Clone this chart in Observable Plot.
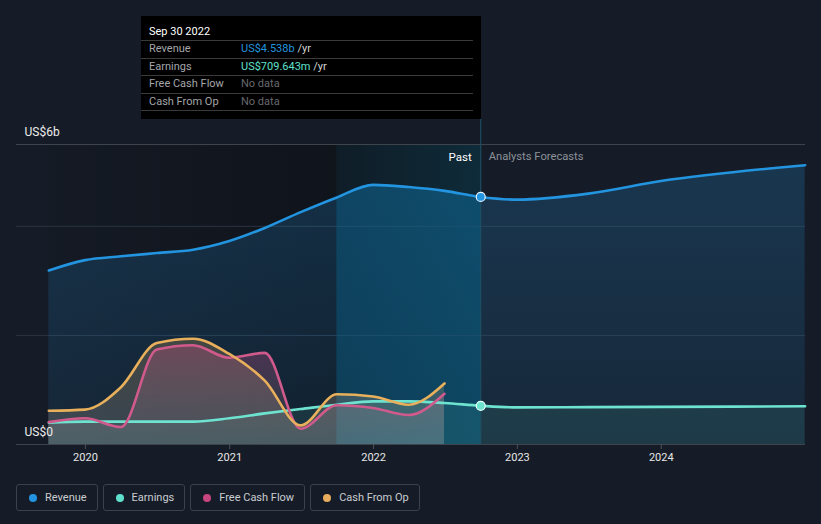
<!DOCTYPE html>
<html>
<head>
<meta charset="utf-8">
<script src="https://cdn.jsdelivr.net/npm/d3@7"></script>
<script src="https://cdn.jsdelivr.net/npm/@observablehq/plot@0.6"></script>
<style>
html,body{margin:0;padding:0;background:#161c27;width:821px;height:524px;overflow:hidden;font-family:Roboto,"Noto Sans",sans-serif;}
#chart{position:absolute;left:0;top:0;}
#tip{position:absolute;left:141px;top:16px;width:340px;height:103px;background:#000;font-size:11px;}
#tip .title{box-sizing:border-box;width:332px;height:25px;padding:7px 0 0 8px;line-height:18px;color:#fff;border-bottom:1px solid #3a3a3a;}
#tip .row{position:relative;box-sizing:border-box;width:332px;height:17.5px;line-height:15px;padding-left:8px;border-bottom:1px solid #3a3a3a;color:#a3a5a9;}
#tip .row .v{position:absolute;left:100px;top:0;}
#tip .unit{color:#d4d4d4;}
#tip .nd{color:#66686c;}
#legend{position:absolute;left:16px;top:484px;display:flex;gap:5px;}
#legend .item{box-sizing:border-box;height:27px;border:1px solid #3b424c;border-radius:3px;padding:0 10px 0 12px;display:flex;align-items:center;font-size:11px;color:#c9ccd1;}
#legend .dot{width:8px;height:8px;border-radius:50%;margin-right:8px;}
</style>
</head>
<body>
<div id="chart"></div>
<div id="tip"></div>
<div id="legend"></div>
<script>
// ---------- data ----------
const pastDates = ["2019-09-30","2019-12-31","2020-03-31","2020-06-30","2020-09-30","2020-12-31","2021-03-31","2021-06-30","2021-09-30","2021-12-31","2022-03-31","2022-06-30","2022-09-30"];
const revenuePast  = [3.19, 3.38, 3.45, 3.51, 3.57, 3.73, 3.97, 4.26, 4.53, 4.76, 4.72, 4.65, 4.538];
const earningsPast = [0.40, 0.42, 0.42, 0.42, 0.42, 0.48, 0.57, 0.65, 0.73, 0.79, 0.79, 0.76, 0.709643];
const cashDates = ["2019-09-30","2019-12-31","2020-03-31","2020-06-30","2020-09-30","2020-12-31","2021-03-31","2021-06-30","2021-09-30","2021-12-31","2022-03-31","2022-06-30"];
const fcfPast = [0.41, 0.48, 0.32, 1.74, 1.82, 1.59, 1.68, 0.29, 0.72, 0.67, 0.54, 0.93];
const cfoPast = [0.62, 0.64, 1.05, 1.86, 1.94, 1.66, 1.17, 0.35, 0.92, 0.88, 0.73, 1.12];
const forecastDates = ["2022-12-31","2023-06-30","2023-12-31","2024-12-31"];
const revenueForecast  = [4.49, 4.60, 4.83, 5.12];
const earningsForecast = [0.68, 0.685, 0.69, 0.70];
const hoverDateStr = "2022-09-30";
const bandStartStr = "2021-09-30";
const yearTicks = ["2020","2021","2022","2023","2024"];
const gridValues = [2, 4];
const yLabelValues = [0, 5.5];
const yLabels = ["US$0", "US$6b"];
const seriesNames = ["Revenue","Earnings","Free Cash Flow","Cash From Op"];
const seriesColors = ["#2394df","#5fe0cc","#c8457e","#e7ac5c"];
const lineColors = {revenue:"#2394df", earnings:"#6ee3cf", fcf:"#d05a8c", cfo:"#e9b05c"};

// ---------- build ----------
const parse = d3.utcParse("%Y-%m-%d");
const hoverDate = parse(hoverDateStr);
const bandStart = parse(bandStartStr);
const past = pastDates.map((d,i)=>({date:parse(d), revenue:revenuePast[i], earnings:earningsPast[i]}));
const fc = forecastDates.map((d,i)=>({date:parse(d), revenue:revenueForecast[i], earnings:earningsForecast[i]}));
const all = past.concat(fc);
const cash = cashDates.map((d,i)=>({date:parse(d), fcf:fcfPast[i], cfo:cfoPast[i]}));
const band = all.filter(d => d.date >= bandStart && d.date <= hoverDate);
const hover = past[past.length-1];
const yearDates = yearTicks.map(d3.utcParse("%Y"));

const chart = Plot.plot({
  width: 821, height: 470,
  marginLeft: 16, marginRight: 16, marginTop: 144, marginBottom: 26,
  style: {background:"transparent", color:"#e6e6e6", fontFamily:"Roboto, 'Noto Sans', sans-serif", fontSize:"11px", overflow:"visible"},
  x: {type:"utc", domain:[parse("2019-07-10"), parse("2025-01-01")], axis:null},
  y: {domain:[0, 5.5], axis:null},
  marks: [
    Plot.rect([{a:past[0].date, b:bandStart}], {x1:"a", x2:"b", fill:"url(#gPast)"}),
    Plot.rect([{a:bandStart, b:hoverDate}], {x1:"a", x2:"b", fill:"url(#gBand)"}),
    Plot.ruleY(gridValues, {stroke:"#2a3441", strokeWidth:1}),
    Plot.areaY(all, {x:"date", y:"revenue", fill:"url(#gRev)", curve:"monotone-x"}),
    Plot.areaY(band, {x:"date", y:"revenue", fill:"rgb(10,100,140)", fillOpacity:0.35, curve:"monotone-x"}),
    Plot.areaY(all, {x:"date", y:"earnings", fill:"#5ee0c9", fillOpacity:0.1, curve:"monotone-x"}),
    Plot.areaY(cash, {x:"date", y:"cfo", fill:"url(#gCfo)", curve:"monotone-x"}),
    Plot.areaY(cash, {x:"date", y:"fcf", fill:"url(#gFcf)", curve:"monotone-x"}),
    Plot.ruleY([yLabelValues[1]], {stroke:"#3e444c", strokeWidth:1}),
    Plot.ruleY([0], {stroke:"#3e444c", strokeWidth:1.2}),
    Plot.ruleX([hoverDate], {stroke:"#1e5468", strokeWidth:1, insetTop:-25}),
    Plot.line(all, {x:"date", y:"revenue", stroke:lineColors.revenue, strokeWidth:2.6, curve:"monotone-x"}),
    Plot.line(all, {x:"date", y:"earnings", stroke:lineColors.earnings, strokeWidth:2.6, curve:"monotone-x"}),
    Plot.line(cash, {x:"date", y:"fcf", stroke:lineColors.fcf, strokeWidth:2.6, curve:"monotone-x"}),
    Plot.line(cash, {x:"date", y:"cfo", stroke:lineColors.cfo, strokeWidth:2.6, curve:"monotone-x"}),
    Plot.dot([hover], {x:"date", y:"revenue", r:4.5, fill:lineColors.revenue, stroke:"#e6f2ff", strokeWidth:1.2}),
    Plot.dot([hover], {x:"date", y:"earnings", r:4.5, fill:lineColors.earnings, stroke:"#e6fffa", strokeWidth:1.2}),
    Plot.text([hoverDate], {x:d=>d, frameAnchor:"top", text:()=>"Past", textAnchor:"end", dx:-9, dy:8, fill:"#ffffff", fontSize:11.5}),
    Plot.text([hoverDate], {x:d=>d, frameAnchor:"top", text:()=>"Analysts Forecasts", textAnchor:"start", dx:8, dy:8, fill:"#8b9099", fontSize:11.2}),
    Plot.text(yLabelValues, {y:d=>d, text:(d,i)=>yLabels[i], frameAnchor:"left", textAnchor:"start", dx:8, dy:-12, fill:"#ececec", fontSize:12}),
    Plot.axisX(yearDates, {tickFormat:d3.utcFormat("%Y"), tickSize:5, tickPadding:4, stroke:"#4a5058", fill:"#e6e6e6", fontSize:11})
  ]
});

// gradients
const defs = d3.select(chart).insert("defs", ":first-child");
function grad(id, horizontal, stops){
  const g = defs.append("linearGradient").attr("id", id)
    .attr("x1",0).attr("y1",0).attr("x2", horizontal?1:0).attr("y2", horizontal?0:1);
  stops.forEach(([o,c,a]) => g.append("stop").attr("offset",o).attr("stop-color",c).attr("stop-opacity",a));
}
grad("gPast", true, [[0,"#000",0.08],[1,"#000",0.3]]);
grad("gBand", true, [[0,"rgb(5,30,40)",0.4],[1,"rgb(5,62,80)",0.45]]);
grad("gRev", false, [[0,"#2394df",0.22],[1,"#2394df",0.1]]);
grad("gCfo", false, [[0,"#e8b05a",0.22],[1,"#b4b4b4",0.22]]);
grad("gFcf", false, [[0,"#c94a86",0.32],[1,"#a0a0a0",0.14]]);

document.getElementById("chart").appendChild(chart);

// tooltip
const fmtB = v => "US$" + v.toFixed(3) + "b";
const fmtM = v => "US$" + (v*1000).toFixed(3) + "m";
const tip = document.getElementById("tip");
tip.innerHTML =
  `<div class="title">${d3.utcFormat("%b %d %Y")(hoverDate)}</div>` +
  `<div class="row">${seriesNames[0]}<span class="v"><span style="color:${seriesColors[0]}">${fmtB(hover.revenue)}</span><span class="unit"> /yr</span></span></div>` +
  `<div class="row">${seriesNames[1]}<span class="v"><span style="color:${seriesColors[1]}">${fmtM(hover.earnings)}</span><span class="unit"> /yr</span></span></div>` +
  `<div class="row">${seriesNames[2]}<span class="v nd">No data</span></div>` +
  `<div class="row">${seriesNames[3]}<span class="v nd">No data</span></div>`;

// legend
const legend = document.getElementById("legend");
seriesNames.forEach((n,i) => {
  const it = document.createElement("div");
  it.className = "item";
  it.innerHTML = `<span class="dot" style="background:${seriesColors[i]}"></span>${n}`;
  legend.appendChild(it);
});
</script>
</body>
</html>
